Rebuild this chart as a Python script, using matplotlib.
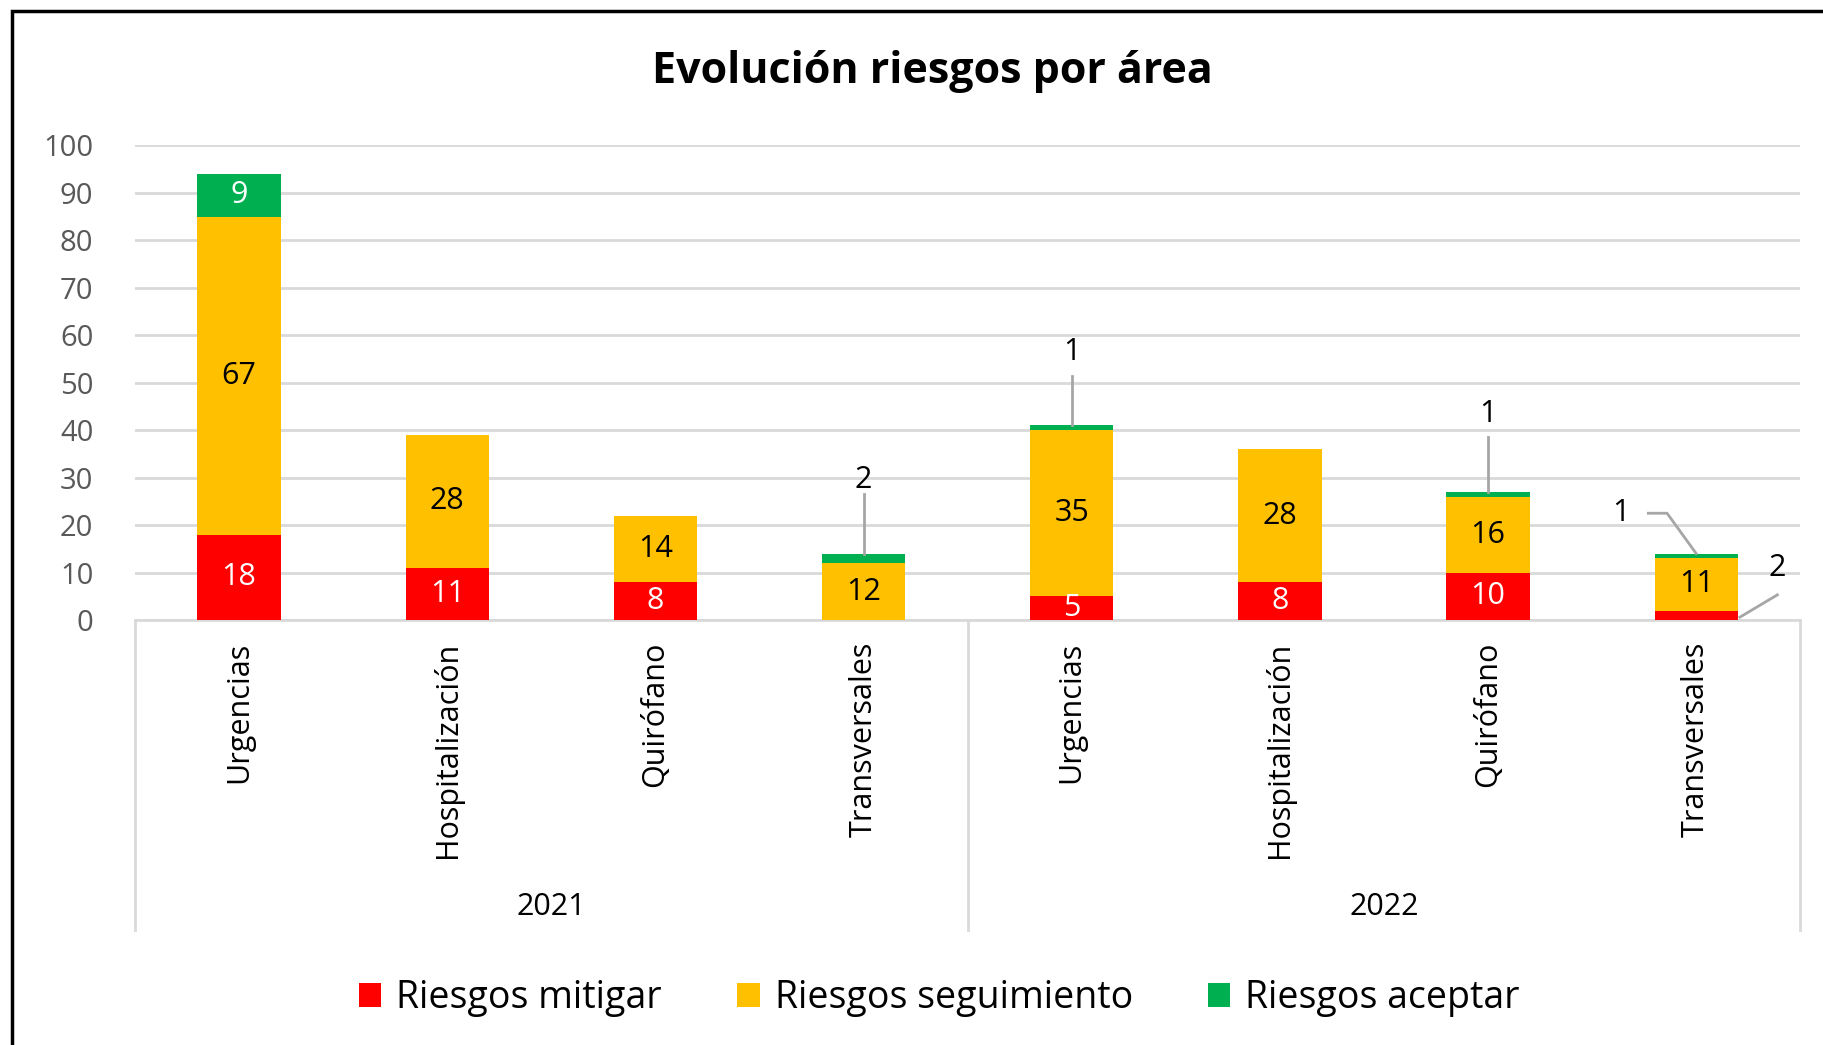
import matplotlib.pyplot as plt
from matplotlib.patches import Rectangle
from matplotlib.transforms import blended_transform_factory
import numpy as np

plt.rcParams['font.family'] = ['Open Sans', 'DejaVu Sans']

# data
years = ['2021', '2022']
areas = ['Urgencias', 'Hospitalización', 'Quirófano', 'Transversales']
mitigar = [18, 11, 8, 0, 5, 8, 10, 2]
seguimiento = [67, 28, 14, 12, 35, 28, 16, 11]
aceptar = [9, 0, 0, 2, 1, 0, 1, 1]

series = [('Riesgos mitigar', mitigar, '#FF0000', 'white'),
          ('Riesgos seguimiento', seguimiento, '#FFC000', 'black'),
          ('Riesgos aceptar', aceptar, '#00B050', 'white')]

# labels drawn outside with leader line: (series idx, bar idx) -> text pos, line points
outside = {
    (2, 3): ((3, 29.5), [(3, 26.5), (3, 14)]),
    (2, 4): ((4, 56.5), [(4, 51.5), (4, 41)]),
    (2, 6): ((6, 43.5), [(6, 38.5), (6, 27)]),
    (2, 7): ((6.64, 22.5), [(6.77, 22.5), (6.86, 22.5), (7.0, 14)]),
    (0, 7): ((7.39, 11), [(7.39, 5.3), (7.21, 0.6)]),
}

fig = plt.figure(figsize=(18.24, 10.45), dpi=100)
ax = fig.add_axes([0.074, 0.4067, 0.913, 0.4541])

x = np.arange(len(mitigar))
bottom = np.zeros(len(x))
handles = []
for si, (name, vals, col, tcol) in enumerate(series):
    vals = np.array(vals, dtype=float)
    b = ax.bar(x, vals, 0.4, bottom=bottom, color=col, label=name, zorder=3)
    handles.append(b)
    for i, v in enumerate(vals):
        if v == 0:
            continue
        if (si, i) in outside:
            (tx, ty), pts = outside[(si, i)]
            ax.text(tx, ty, f'{int(v)}', ha='center', va='center', fontsize=22, color='black', zorder=5)
            px, py = zip(*pts)
            ax.plot(px, py, color='#A6A6A6', lw=2, zorder=4, clip_on=False)
        else:
            ax.text(i, bottom[i] + v / 2, f'{int(v)}', ha='center', va='center',
                    fontsize=22, color=tcol, zorder=5)
    bottom += vals

ax.set_ylim(0, 100)
ax.set_xlim(-0.5, len(x) - 0.5)
ax.set_yticks(range(0, 101, 10))
ax.tick_params(axis='y', length=0, labelsize=21, labelcolor='#595959', pad=30)
ax.set_xticks([])
ax.grid(axis='y', color='#D9D9D9', lw=2, zorder=0)
for s in ['top', 'right', 'left']:
    ax.spines[s].set_visible(False)
ax.spines['bottom'].set_color('#D9D9D9')
ax.spines['bottom'].set_linewidth(2)

# category and year labels
tr = blended_transform_factory(ax.transData, ax.transAxes)
for i in x:
    ax.text(i, -0.045, areas[i % 4], rotation=90, ha='center', va='top',
            fontsize=22, color='black', transform=tr)
for g, yr in enumerate(years):
    ax.text(g * 4 + 1.5, -0.605, yr, ha='center', va='center', fontsize=22,
            color='black', transform=tr)
for xs in [-0.5, 3.5, 7.5]:
    ax.plot([xs, xs], [0, -0.653], color='#D9D9D9', lw=2, transform=tr, clip_on=False)

fig.text(0.511, 0.932, 'Evolución riesgos por área', ha='center', va='center',
         fontsize=31, fontweight='bold')

fig.legend(handles=handles, loc='center', bbox_to_anchor=(0.515, 0.045), ncol=3,
           frameon=False, fontsize=27, handlelength=0.6, handleheight=0.6,
           handletextpad=0.4, columnspacing=2.0)

fig.add_artist(Rectangle((0.0065, -0.1), 1.2, 1.0895, fill=False, ec='black', lw=2.5,
                         transform=fig.transFigure))

fig.savefig('out.png', dpi=100)
